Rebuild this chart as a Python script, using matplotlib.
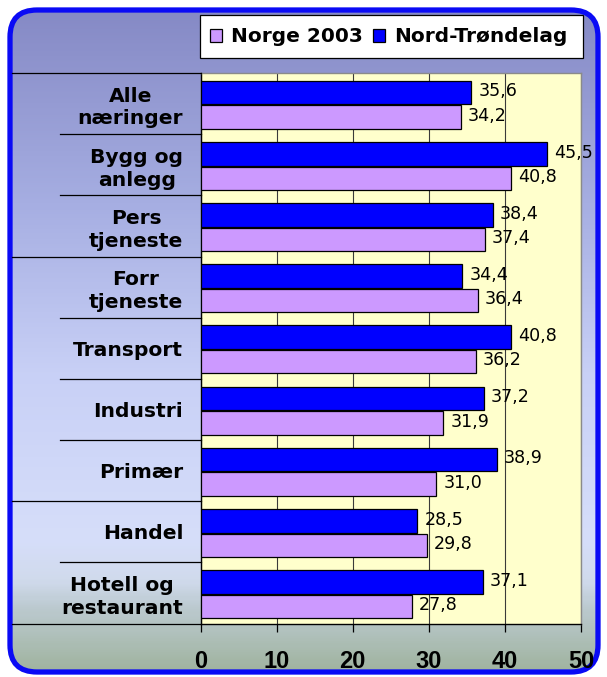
import matplotlib
matplotlib.use("Agg")
import matplotlib.pyplot as plt
import numpy as np
from matplotlib.patches import FancyBboxPatch, Rectangle, Patch
from matplotlib.colors import LinearSegmentedColormap
from matplotlib.transforms import blended_transform_factory

plt.rcParams['font.family'] = ['DejaVu Sans']

# ---- data ----
categories = ["Alle\nnæringer", "Bygg og\nanlegg", "Pers\ntjeneste", "Forr\ntjeneste",
              "Transport", "Industri", "Primær", "Handel", "Hotell og\nrestaurant"]
nord_trondelag = [35.6, 45.5, 38.4, 34.4, 40.8, 37.2, 38.9, 28.5, 37.1]
norge_2003 = [34.2, 40.8, 37.4, 36.4, 36.2, 31.9, 31.0, 29.8, 27.8]
series_names = ["Norge 2003", "Nord-Trøndelag"]
x_ticks = [0, 10, 20, 30, 40, 50]
long_separators = [-0.5, 2.5, 6.5, 8.5]
short_separators = [0.5, 1.5, 3.5, 4.5, 5.5, 7.5]

c_blue = "#0000FF"
c_purple = "#CC99FF"

W, H = 607, 677
fig = plt.figure(figsize=(W / 100, H / 100), dpi=100, facecolor="white")

# ---- background with gradient & rounded border ----
bg = fig.add_axes([0, 0, 1, 1], zorder=-10)
bg.set_xlim(0, W)
bg.set_ylim(H, 0)
bg.set_axis_off()
cmap = LinearSegmentedColormap.from_list("bgc", [
    (0.0, "#8488C4"), (0.30, "#A6AEE2"), (0.55, "#C8D0F6"), (0.80, "#D6DEFA"),
    (0.86, "#D0DAEC"), (0.90, "#BCCAD0"), (1.0, "#9EB29C")])
grad = np.linspace(0, 1, 300).reshape(-1, 1)
im = bg.imshow(grad, cmap=cmap, extent=(0, W, H, 0), aspect="auto", zorder=0)
frame = FancyBboxPatch((10, 10), W - 19, H - 15,
                       boxstyle="round,pad=0,rounding_size=27",
                       facecolor="none", edgecolor="#0A0AF5", linewidth=3.8,
                       transform=bg.transData, zorder=2)
bg.add_patch(frame)
im.set_clip_path(frame)

# legend box
bg.add_patch(Rectangle((200, 15), 383, 43, facecolor="white", edgecolor="black",
                       linewidth=0.9, zorder=3))

# ---- main axes ----
left, right, top, bottom = 200.5, 581, 73, 623.5
ax = fig.add_axes([left / W, 1 - bottom / H, (right - left) / W, (bottom - top) / H])
ax.set_facecolor("#FFFFCC")

y = np.arange(len(categories))
ax.barh(y - 0.18, nord_trondelag, height=0.386, color=c_blue, edgecolor="black",
        linewidth=0.9, zorder=3)
ax.barh(y + 0.22, norge_2003, height=0.382, color=c_purple, edgecolor="black",
        linewidth=0.9, zorder=3)

for yi, v in zip(y, nord_trondelag):
    ax.annotate(f"{v:.1f}".replace(".", ","), (v, yi - 0.20), xytext=(5, 0),
                textcoords="offset points", va="center", ha="left", fontsize=12.6, zorder=4)
for yi, v in zip(y, norge_2003):
    ax.annotate(f"{v:.1f}".replace(".", ","), (v, yi + 0.20), xytext=(5, 0),
                textcoords="offset points", va="center", ha="left", fontsize=12.6, zorder=4)

ax.set_xlim(0, 50)
ax.set_ylim(8.5, -0.5)
ax.set_xticks(x_ticks)
ax.set_xticklabels([str(t) for t in x_ticks], fontsize=17, fontweight="bold",
                   family=["Liberation Sans", "DejaVu Sans"])
ax.tick_params(axis="x", direction="out", length=5.8, width=0.9, pad=13.5, color="black")
ax.set_yticks(y)
ax.set_yticklabels(categories, fontsize=14.6, fontweight="bold")
for t in ax.get_yticklabels():
    t.set_multialignment("center")
    t.set_linespacing(1.25)
ax.tick_params(axis="y", length=0, pad=12.5)

ax.xaxis.grid(True, color="#3a3a3a", linewidth=0.8)
ax.set_axisbelow(True)
for s in ["top", "right"]:
    ax.spines[s].set_color("#8a8a8a")
    ax.spines[s].set_linewidth(1.0)
for s in ["left", "bottom"]:
    ax.spines[s].set_color("black")
    ax.spines[s].set_linewidth(1.0)

# category separator lines
tr = blended_transform_factory(bg.transData, ax.transData)
for b in long_separators:
    ax.plot([12, left], [b, b], color="black", linewidth=0.9, transform=tr,
            clip_on=False, zorder=5)
for b in short_separators:
    ax.plot([60, left], [b, b], color="black", linewidth=0.9, transform=tr,
            clip_on=False, zorder=5)

# ---- legend ----
handles = [Patch(facecolor=c_purple, edgecolor="black", linewidth=0.9),
           Patch(facecolor=c_blue, edgecolor="black", linewidth=0.9)]
fig.legend(handles, series_names, loc="center left",
           bbox_to_anchor=(210 / W, 1 - 37 / H), ncol=2, frameon=False,
           prop={"size": 14.5, "weight": "bold"}, handlelength=0.6, handleheight=0.6,
           handletextpad=0.45, columnspacing=0.5, borderpad=0, borderaxespad=0)

fig.savefig("out.png", dpi=100, facecolor="white")
